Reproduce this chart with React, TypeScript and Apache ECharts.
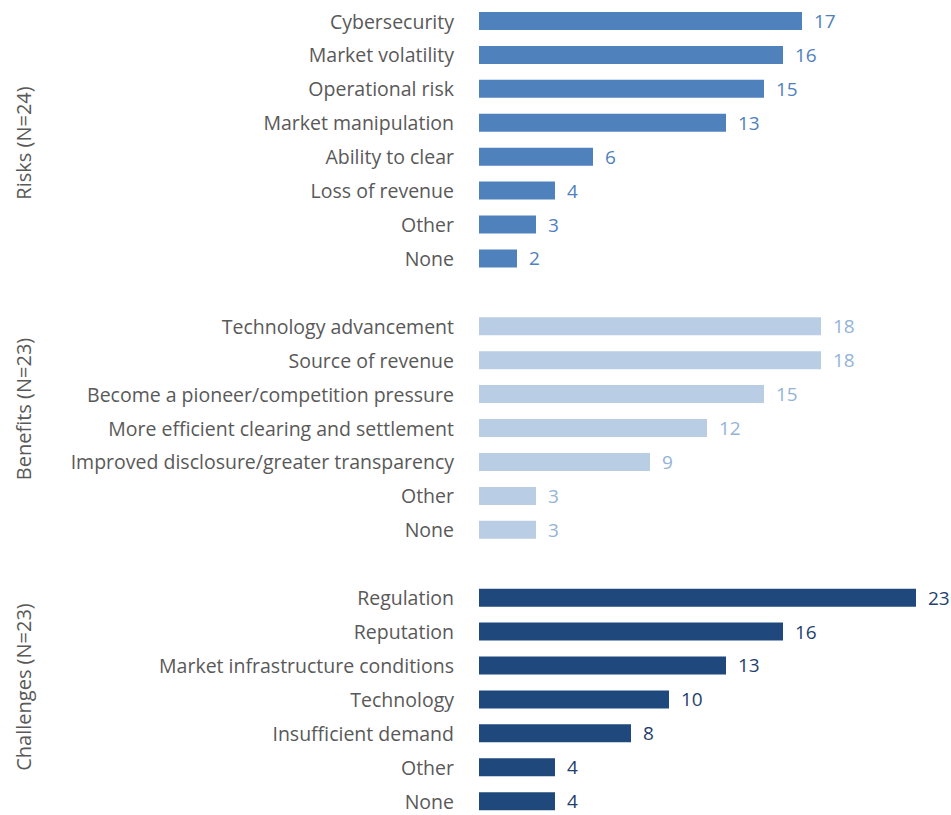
import React, { useEffect, useRef } from "react";
import * as echarts from "echarts";

const risksCats = ["Cybersecurity", "Market volatility", "Operational risk", "Market manipulation", "Ability to clear", "Loss of revenue", "Other", "None"];
const risksVals = [17, 16, 15, 13, 6, 4, 3, 2];
const benefitsCats = ["Technology advancement", "Source of revenue", "Become a pioneer/competition pressure", "More efficient clearing and settlement", "Improved disclosure/greater transparency", "Other", "None"];
const benefitsVals = [18, 18, 15, 12, 9, 3, 3];
const challengesCats = ["Regulation", "Reputation", "Market infrastructure conditions", "Technology", "Insufficient demand", "Other", "None"];
const challengesVals = [23, 16, 13, 10, 8, 4, 4];
const groupTitles = ["Risks (N=24)", "Benefits (N=23)", "Challenges (N=23)"];

const FONT = "'Open Sans'";
const GRAY = "#595959";
const TITLE_Y = [143, 409, 687];

export default function App() {
  const ref = useRef<HTMLDivElement>(null);
  useEffect(() => {
    if (!ref.current) return;
    const chart = echarts.init(ref.current, null, { renderer: "svg" });
    const groups = [
      { cats: risksCats, vals: risksVals, bar: "#4F81BD", lab: "#4F81BD" },
      { cats: benefitsCats, vals: benefitsVals, bar: "#B9CDE5", lab: "#95B3D7" },
      { cats: challengesCats, vals: challengesVals, bar: "#1F497D", lab: "#1F3F6E" },
    ];
    const cats: string[] = [];
    const data: any[] = [];
    groups.forEach((g, gi) => {
      if (gi > 0) {
        cats.push("");
        data.push("-");
      }
      g.cats.forEach((c, i) => {
        cats.push(c);
        data.push({
          value: g.vals[i],
          itemStyle: { color: g.bar },
          label: { color: g.lab },
        });
      });
    });
    const band = 33.92;
    const top = 21 - band / 2;
    const height = band * cats.length;
    const graphics = groupTitles.map((t, i) => ({
      type: "text",
      x: 23,
      y: TITLE_Y[i],
      rotation: Math.PI / 2,
      style: {
        text: t,
        fill: GRAY,
        font: `20px ${FONT}`,
        align: "center",
        verticalAlign: "middle",
      },
    }));
    chart.setOption({
      animation: false,
      grid: { left: 479, top, height, width: 456, outerBoundsMode: "none", containLabel: false },
      xAxis: { type: "value", min: 0, max: 24, show: false },
      yAxis: {
        type: "category",
        data: cats,
        inverse: true,
        axisLine: { show: false },
        axisTick: { show: false },
        splitLine: { show: false },
        axisLabel: {
          interval: 0,
          margin: 25,
          color: GRAY,
          fontFamily: FONT,
          fontSize: 19.5,
          lineHeight: 18,
        },
      },
      series: [
        {
          type: "bar",
          data,
          barWidth: 18,
          label: {
            show: true,
            position: "right",
            distance: 12,
            fontFamily: FONT,
            fontSize: 19,
            lineHeight: 18,
          },
        },
      ],
      graphic: graphics,
    });
    return () => chart.dispose();
  }, []);
  return <div ref={ref} style={{ position: "absolute", left: 0, top: 0, width: 951, height: 815 }} />;
}
